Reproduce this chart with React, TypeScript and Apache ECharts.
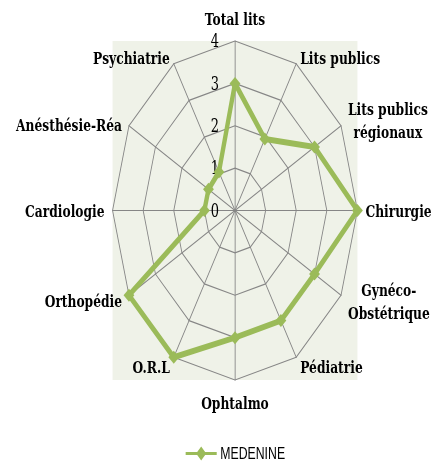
import React, { useEffect, useRef } from "react";
import * as echarts from "echarts";

// Data (clockwise from the top, as in the picture)
const categories = [
  "Total lits",
  "Lits publics",
  "Lits publics\nrégionaux",
  "Chirurgie",
  "Gynéco-\nObstétrique",
  "Pédiatrie",
  "Ophtalmo",
  "O.R.L",
  "Orthopédie",
  "Cardiologie",
  "Anésthésie-Réa",
  "Psychiatrie",
];
const medenine = [3.0, 1.95, 3.0, 4.0, 3.0, 3.0, 3.0, 4.0, 4.0, 1.0, 1.0, 1.05];
const seriesName = "MEDENINE";
const axisMax = 4;
const axisSplits = 4;

// Layout (the reference is horizontally compressed)
const SCALE_X = 0.7224;
const W = 598;
const H = 468;
const CX = 325.3;
const CY = 210.5;
const R = 169.5;
// labels that sit a little lower than the default placement
const lowered = ["Lits publics", "Psychiatrie", "Anésthésie-Réa"];

export default function App() {
  const ref = useRef<HTMLDivElement>(null);
  useEffect(() => {
    if (!ref.current) return;
    const chart = echarts.init(ref.current, null, { renderer: "svg" });
    // ECharts lays radar indicators counter-clockwise; reorder to clockwise.
    const order = [0, ...categories.map((_, i) => i).slice(1).reverse()];
    const indicator = order.map((i) => {
      const ind: any = { name: categories[i], min: 0, max: axisMax };
      if (i === 0) ind.axisLabel = { show: true };
      return ind;
    });
    const values = order.map((i) => medenine[i]);
    const serif = "DejaVu Serif";
    const nameStyle = {
      align: "center",
      color: "#000",
      fontFamily: serif,
      fontWeight: "bold",
      fontSize: 17,
      lineHeight: 23,
    };
    chart.setOption({
      animation: false,
      graphic: [
        {
          type: "rect",
          z: -10,
          silent: true,
          shape: { x: CX - R, y: CY - R, width: 2 * R, height: 2 * R },
          style: { fill: "#EFF2E8" },
        },
      ],
      legend: {
        data: [
          {
            name: seriesName,
            icon: "path://M0,5.5L16,5.5L21.5,0L27,5.5L43,5.5L43,8.5L27,8.5L21.5,14L16,8.5L0,8.5Z",
          },
        ],
        left: 257,
        top: 445,
        padding: 0,
        itemWidth: 43,
        itemHeight: 14,
        itemGap: 6,
        textStyle: { fontFamily: "Liberation Sans", fontSize: 17, color: "#000" },
      },
      radar: {
        center: [CX, CY],
        radius: R,
        startAngle: 90,
        shape: "polygon",
        splitNumber: axisSplits,
        indicator,
        axisName: {
          color: "#000",
          fontFamily: serif,
          fontWeight: "bold",
          fontSize: 17,
          formatter: (name: string) => {
            const tag = lowered.indexOf(name) >= 0 ? "d" : "c";
            return name
              .split("\n")
              .map((l) => `{${tag}|${l}}`)
              .join("\n");
          },
          rich: {
            c: nameStyle,
            d: { ...nameStyle, padding: [8, 0, 0, 0] },
          },
        },
        nameGap: 11,
        axisLine: { lineStyle: { color: "#868686", width: 1.2 } },
        splitLine: { lineStyle: { color: "#868686", width: 1.2 } },
        splitArea: { show: false },
        axisTick: { show: false },
        axisLabel: {
          show: false,
          color: "#000",
          fontFamily: serif,
          fontSize: 18,
          margin: 22,
          padding: [4, 0, 0, 0],
        },
      },
      series: [
        {
          type: "radar",
          name: seriesName,
          symbol: "diamond",
          symbolSize: [15, 13],
          lineStyle: { color: "#9BBB59", width: 6 },
          itemStyle: { color: "#9BBB59" },
          data: [{ name: seriesName, value: values }],
        },
      ],
    });
    return () => chart.dispose();
  }, []);
  return (
    <div
      ref={ref}
      style={{
        position: "fixed",
        left: 0,
        top: 0,
        width: W,
        height: H,
        transform: `scaleX(${SCALE_X})`,
        transformOrigin: "0 0",
      }}
    />
  );
}
